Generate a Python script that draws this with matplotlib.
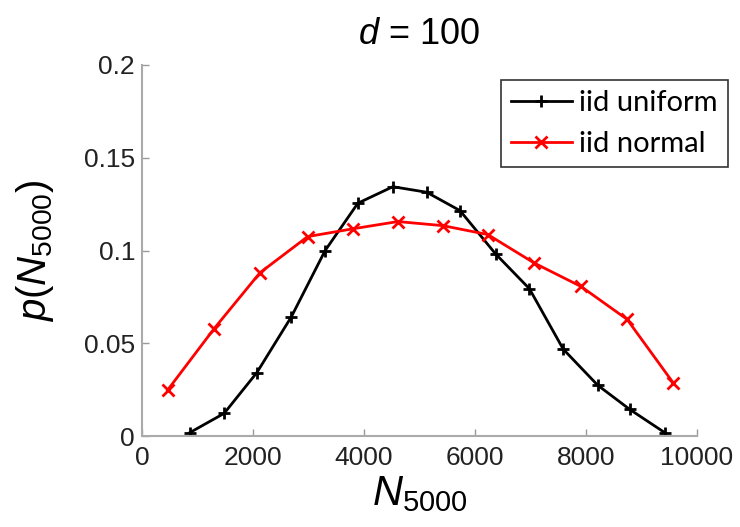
import matplotlib
matplotlib.use("Agg")
import matplotlib.pyplot as plt

# Data
uniform_x = [860, 1480, 2070, 2690, 3300, 3890, 4520, 5130, 5730, 6370, 6980, 7590, 8210, 8790, 9420]
uniform_y = [0.0018, 0.0122, 0.0342, 0.0642, 0.100, 0.1255, 0.1344, 0.1314, 0.1215, 0.0982, 0.0794, 0.0468, 0.0274, 0.0143, 0.0018]

normal_x = [460, 1300, 2125, 2985, 3800, 4610, 5420, 6230, 7070, 7910, 8740, 9570]
normal_y = [0.0247, 0.0579, 0.088, 0.1075, 0.1117, 0.1156, 0.1134, 0.1086, 0.0932, 0.0806, 0.0629, 0.0287]

xticks = [0, 2000, 4000, 6000, 8000, 10000]
yticks = [0, 0.05, 0.1, 0.15, 0.2]
ytick_labels = ["0", "0.05", "0.1", "0.15", "0.2"]

plt.rcParams['font.family'] = ['Liberation Sans', 'DejaVu Sans']
plt.rcParams['mathtext.fontset'] = 'custom'
plt.rcParams['mathtext.rm'] = 'Liberation Sans'
plt.rcParams['mathtext.it'] = 'Liberation Sans:italic'

fig = plt.figure(figsize=(7.4, 5.27), dpi=100)
W, H = 740, 527
ax = fig.add_axes([142 / W, 1 - 436 / H, (697 - 142) / W, (436 - 65) / H])

ax.plot(uniform_x, uniform_y, color='black', lw=2.0, marker='+', ms=9, mew=2.0,
        label='iid uniform')
ax.plot(normal_x, normal_y, color='red', lw=2.0, marker='x', ms=8, mew=2.0,
        label='iid normal')

ax.set_xlim(0, 10000)
ax.set_ylim(0, 0.2)
ax.set_xticks(xticks)
ax.set_xticklabels([str(t) for t in xticks])
ax.set_yticks(yticks)
ax.set_yticklabels(ytick_labels)
ax.tick_params(direction='in', length=5, width=1, colors='#999999', labelcolor='#222222',
               labelsize=19)
ax.tick_params(axis='x', pad=7)
ax.tick_params(axis='y', pad=5)

for s in ['top', 'right']:
    ax.spines[s].set_visible(False)
for s in ['left', 'bottom']:
    ax.spines[s].set_color('#aaaaaa')
    ax.spines[s].set_linewidth(1.5)

ax.set_title(r'$d$ = 100', fontsize=26, pad=15)
ax.set_xlabel(r'$N_{5000}$', fontsize=30, labelpad=3)
ax.set_ylabel(r'$p(N_{5000})$', fontsize=29, labelpad=20)

leg = ax.legend(loc='upper right', bbox_to_anchor=(728 / W, 1 - 80 / H),
                bbox_transform=fig.transFigure, fancybox=False, framealpha=1,
                edgecolor='#333333', borderaxespad=0, handlelength=2.1,
                handletextpad=0.25, borderpad=0.35, labelspacing=0.5,
                prop={'family': 'Lato', 'size': 21})
leg.get_frame().set_linewidth(1.2)

fig.savefig('out.png', dpi=100)
